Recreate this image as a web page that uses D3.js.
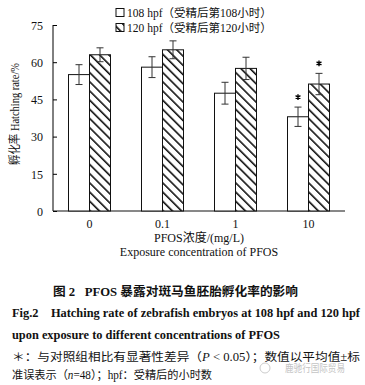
<!DOCTYPE html>
<html lang="zh">
<head>
<meta charset="UTF-8">
<title>Fig.2</title>
<script src="https://cdn.jsdelivr.net/npm/d3@7"></script>
<style>
    body { margin: 0; background: #fff; }
    svg { display: block; }
    text { font-family: "Liberation Serif", "Noto Sans CJK SC", serif; fill: #111; white-space: pre; }
    .cjk { font-family: "Liberation Serif", "Noto Sans CJK SC", sans-serif; }
</style>
</head>
<body>
<script>
    const width = 365, height = 385;
    const concentrations = ["0", "0.1", "1", "10"];
    const seriesNames = ["108 hpf（受精后第108小时）", "120 hpf（受精后第120小时）"];
    const hatch108 = [55, 58, 47.5, 38];
    const err108 = [4, 4.2, 4.4, 3.9];
    const hatch120 = [63, 65, 57.5, 51.2];
    const err120 = [2.8, 3.6, 4.5, 4.3];
    const sig108 = [false, false, false, true];
    const sig120 = [false, false, false, true];
    const yTicks = [0, 15, 30, 45, 60, 75];

    const svg = d3.select("body").append("svg").attr("width", width).attr("height", height);

    const defs = svg.append("defs");
    const pat = defs.append("pattern")
        .attr("id", "hatch")
        .attr("patternUnits", "userSpaceOnUse")
        .attr("width", 6.5).attr("height", 6.5)
        .attr("patternTransform", "rotate(-45)");
    pat.append("rect").attr("width", 6.5).attr("height", 6.5).attr("fill", "#fff");
    pat.append("line").attr("x1", 0).attr("y1", 0).attr("x2", 0).attr("y2", 6.5)
        .attr("stroke", "#111").attr("stroke-width", 3.2);

    const x = d3.scaleBand().domain(concentrations).range([53, 345]);
    const y = d3.scaleLinear().domain([0, 75]).range([211, 25]);
    const barW = 21;

    // axes
    const yAxis = svg.append("g").attr("transform", "translate(53,0)")
        .call(d3.axisLeft(y).tickValues(yTicks).tickSize(-4).tickPadding(10));
    yAxis.select(".domain").attr("d", `M0,${y(75)}V${y(0)}`);
    yAxis.selectAll("text").attr("font-size", 12).attr("dy", "0.35em").style("fill", "#111");

    svg.append("line").attr("x1", 53).attr("x2", 345).attr("y1", y(0)).attr("y2", y(0))
        .attr("stroke", "#111");

    svg.append("g").selectAll("text").data(concentrations).join("text")
        .attr("x", d => x(d) + x.bandwidth() / 2)
        .attr("y", 228)
        .attr("text-anchor", "middle")
        .attr("font-size", 12)
        .text(d => d);

    // bars
    const groups = svg.append("g").selectAll("g").data(concentrations).join("g")
        .attr("transform", d => `translate(${x(d) + x.bandwidth() / 2},0)`);

    groups.append("rect")
        .attr("x", -barW).attr("width", barW)
        .attr("y", (d, i) => y(hatch108[i]))
        .attr("height", (d, i) => y(0) - y(hatch108[i]))
        .attr("fill", "#fff").attr("stroke", "#111").attr("stroke-width", 1);

    groups.append("rect")
        .attr("x", 0).attr("width", barW)
        .attr("y", (d, i) => y(hatch120[i]))
        .attr("height", (d, i) => y(0) - y(hatch120[i]))
        .attr("fill", "url(#hatch)").attr("stroke", "#111").attr("stroke-width", 1);

    const errorBar = (g, cx, v, e) => {
        g.append("line").attr("x1", cx).attr("x2", cx).attr("y1", y(v + e)).attr("y2", y(v - e))
            .attr("stroke", "#333").attr("stroke-width", 1);
        [v + e, v - e].forEach(t => {
            g.append("line").attr("x1", cx - 3.5).attr("x2", cx + 3.5).attr("y1", y(t)).attr("y2", y(t))
                .attr("stroke", "#333").attr("stroke-width", 1);
        });
    };
    const star = d3.symbol(d3.symbolAsterisk, 22);
    const drawStar = (g, cx, top) => {
        g.append("path").attr("d", star())
            .attr("transform", `translate(${cx},${y(top) - 10})`)
            .attr("fill", "none").attr("stroke", "#000").attr("stroke-width", 1.4);
    };
    groups.each(function (d, i) {
        const g = d3.select(this);
        errorBar(g, -barW / 2, hatch108[i], err108[i]);
        errorBar(g, barW / 2, hatch120[i], err120[i]);
        if (sig108[i]) drawStar(g, -barW / 2, hatch108[i] + err108[i]);
        if (sig120[i]) drawStar(g, barW / 2, hatch120[i] + err120[i]);
    });

    // legend
    const legend = svg.append("g").attr("transform", "translate(116,0)");
    legend.append("rect").attr("x", 0).attr("y", 8.5).attr("width", 8).attr("height", 8)
        .attr("fill", "#fff").attr("stroke", "#111");
    legend.append("rect").attr("x", 0).attr("y", 23.5).attr("width", 8).attr("height", 8)
        .attr("fill", "url(#hatch)").attr("stroke", "#111");
    legend.selectAll("text.leg").data(seriesNames).join("text").attr("class", "leg cjk")
        .attr("x", 11).attr("y", (d, i) => 17 + i * 15)
        .attr("font-size", 11.5).text(d => d);

    // y label
    svg.append("text").attr("class", "cjk")
        .attr("transform", "translate(19,114) rotate(-90)")
        .attr("text-anchor", "middle").attr("font-size", 12)
        .attr("textLength", 102).attr("lengthAdjust", "spacingAndGlyphs")
        .text("孵化率 Hatching rate/%");

    // x titles
    svg.append("text").attr("class", "cjk").attr("x", 199).attr("y", 242)
        .attr("text-anchor", "middle").attr("font-size", 12).text("PFOS浓度/(mg/L)");
    svg.append("text").attr("x", 199).attr("y", 256)
        .attr("text-anchor", "middle").attr("font-size", 12).text("Exposure concentration of PFOS");

    // caption
    svg.append("text").attr("class", "cjk").attr("x", 53).attr("y", 296)
        .attr("font-size", 12.5).attr("font-weight", "bold")
        .attr("textLength", 245).attr("lengthAdjust", "spacingAndGlyphs")
        .text("图 2   PFOS 暴露对斑马鱼胚胎孵化率的影响");
    svg.append("text").attr("x", 12).attr("y", 317)
        .attr("font-size", 12).attr("font-weight", "bold")
        .attr("textLength", 348).attr("lengthAdjust", "spacingAndGlyphs")
        .text("Fig.2    Hatching rate of zebrafish embryos at 108 hpf and 120 hpf");
    svg.append("text").attr("x", 12).attr("y", 339)
        .attr("font-size", 12).attr("font-weight", "bold")
        .attr("textLength", 268).attr("lengthAdjust", "spacingAndGlyphs")
        .text("upon exposure to different concentrations of PFOS");
    svg.append("text").attr("class", "cjk").attr("x", 12).attr("y", 361)
        .attr("font-size", 11.5).attr("textLength", 348).attr("lengthAdjust", "spacingAndGlyphs")
        .html("＊：与对照组相比有显著性差异（<tspan font-style='italic'>P</tspan> &lt; 0.05）；数值以平均值±标");
    svg.append("text").attr("class", "cjk").attr("x", 12).attr("y", 379)
        .attr("font-size", 11.5).attr("textLength", 200).attr("lengthAdjust", "spacingAndGlyphs")
        .html("准误表示（<tspan font-style='italic'>n</tspan>=48）；hpf：受精后的小时数");

    // watermark
    svg.append("circle").attr("cx", 265).attr("cy", 368).attr("r", 5)
        .attr("fill", "none").attr("stroke", "#ccc");
    svg.append("text").attr("class", "cjk").attr("x", 285).attr("y", 372)
        .attr("font-size", 10.5).style("fill", "#c4c4c4")
        .attr("textLength", 60).attr("lengthAdjust", "spacingAndGlyphs")
        .text("鹿驰行国际贸易");
</script>
</body>
</html>
